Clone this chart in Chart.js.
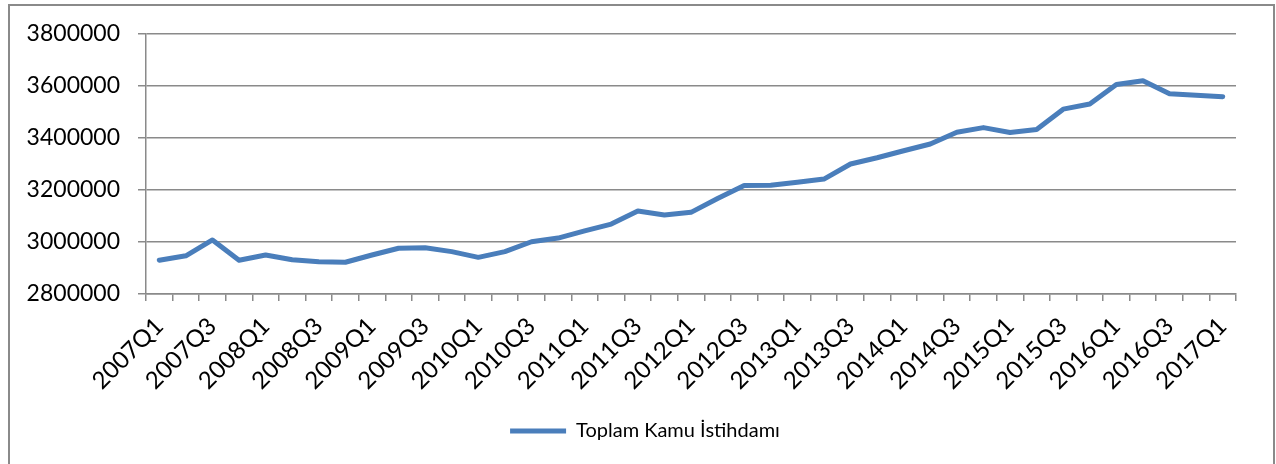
<!DOCTYPE html>
<html>
<head>
<meta charset="utf-8">
<script src="https://cdn.jsdelivr.net/npm/chart.js@4.4.1/dist/chart.umd.min.js"></script>
<style>
  html, body { margin: 0; padding: 0; background: #fff; overflow: hidden; }
  #box { position: absolute; left: 8px; top: 4px; width: 1263px; height: 470px; border: 2px solid #8a8a8a; background: #fff; }
  #c { display: block; }
</style>
</head>
<body>
<div id="box"><canvas id="c" width="1263" height="470"></canvas></div>
<script>
const categories = [
  "2007Q1","2007Q2","2007Q3","2007Q4",
  "2008Q1","2008Q2","2008Q3","2008Q4",
  "2009Q1","2009Q2","2009Q3","2009Q4",
  "2010Q1","2010Q2","2010Q3","2010Q4",
  "2011Q1","2011Q2","2011Q3","2011Q4",
  "2012Q1","2012Q2","2012Q3","2012Q4",
  "2013Q1","2013Q2","2013Q3","2013Q4",
  "2014Q1","2014Q2","2014Q3","2014Q4",
  "2015Q1","2015Q2","2015Q3","2015Q4",
  "2016Q1","2016Q2","2016Q3","2016Q4",
  "2017Q1"
];
const kamuIstihdami = [
  2930000, 2947000, 3008000, 2930000,
  2950000, 2932000, 2924000, 2922000,
  2950000, 2976000, 2978000, 2963000,
  2941000, 2963000, 3001000, 3015000,
  3043000, 3069000, 3119000, 3104000,
  3114000, 3167000, 3217000, 3218000,
  3230000, 3242000, 3300000, 3324000,
  3351000, 3377000, 3422000, 3440000,
  3421000, 3433000, 3511000, 3531000,
  3606000, 3620000, 3570000, 3564000,
  3559000
];
const seriesName = "Toplam Kamu İstihdamı";
const yMin = 2800000, yMax = 3800000, yStep = 200000;

Chart.defaults.font.family = "Lato, 'Open Sans', sans-serif";
Chart.defaults.color = "#000";

const gridColor = "#8a8a8a";

const legendShift = {
  id: "legendShift",
  afterLayout(chart) {
    const l = chart.legend;
    if (l) { l.left += 22; l.right += 22; }
  }
};

new Chart(document.getElementById("c"), {
  type: "line",
  data: {
    labels: categories,
    datasets: [{
      label: seriesName,
      data: kamuIstihdami,
      borderColor: "#4a7ebb",
      backgroundColor: "#4a7ebb",
      borderWidth: 5,
      borderCapStyle: "round",
      borderJoinStyle: "round",
      pointRadius: 0,
      pointHoverRadius: 0,
      tension: 0,
      fill: false
    }]
  },
  plugins: [legendShift],
  options: {
    responsive: false,
    animation: false,
    layout: { padding: { top: 28, left: 0, right: 37, bottom: 25 } },
    scales: {
      x: {
        offset: true,
        grid: {
          offset: true,
          drawOnChartArea: false,
          drawTicks: true,
          tickLength: 7,
          color: gridColor,
          lineWidth: 1.5
        },
        border: { display: true, color: gridColor, width: 1.5 },
        ticks: {
          autoSkip: false,
          minRotation: 45,
          maxRotation: 45,
          padding: 11,
          font: { size: 24 },
          callback: function (v, i) { return i % 2 === 0 ? categories[i] : ""; }
        },
        afterFit: function (s) { s.height = 117; s.paddingLeft = 0; s.paddingRight = 0; }
      },
      y: {
        min: yMin,
        max: yMax,
        grid: {
          color: gridColor,
          lineWidth: 1.5,
          drawTicks: true,
          tickLength: 8
        },
        border: { display: true, color: gridColor, width: 1.5 },
        ticks: {
          stepSize: yStep,
          padding: 18,
          font: { size: 23 },
          callback: function (v) { return String(v); }
        },
        afterFit: function (s) { s.width = 136; s.paddingTop = 0; s.paddingBottom = 0; }
      }
    },
    plugins: {
      legend: {
        position: "bottom",
        labels: {
          usePointStyle: true,
          pointStyle: "line",
          pointStyleWidth: 56,
          padding: 10,
          font: { size: 20 },
          color: "#000"
        }
      },
      tooltip: { enabled: false }
    }
  }
});
</script>
</body>
</html>
